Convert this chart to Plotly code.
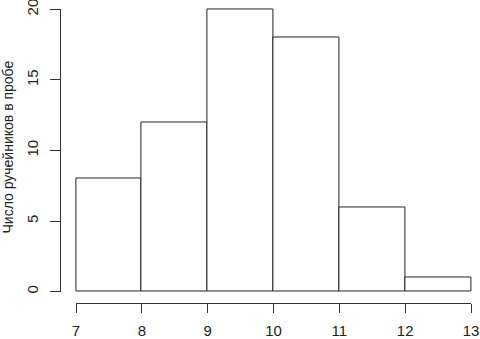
import plotly.graph_objects as go

bin_left = [7, 8, 9, 10, 11, 12]
counts = [8, 12, 20, 18, 6, 1]
x_ticks = [7, 8, 9, 10, 11, 12, 13]
y_ticks = [0, 5, 10, 15, 20]
y_label = "Число ручейников в пробе"

W, H = 480, 339
centers = [b + 0.5 for b in bin_left]

def px(x):
    return x / W

def py(y):
    return (H - y) / H

font = dict(family="Liberation Sans, Arial, sans-serif", size=15, color="#222")

# data extents in target pixels
X7, X13 = 76.0, 471.0
Y0, Y20 = 291.7, 9.3
padx = 0.1
pad_bot, pad_top = 0.5, 0.2
ux = (X13 - X7) / 6.0
uy = (Y0 - Y20) / 20.0

fig = go.Figure()
fig.add_trace(go.Bar(
    x=centers, y=counts, width=[1] * len(counts),
    marker=dict(color="white", line=dict(color="#222", width=1)),
    hoverinfo="skip", showlegend=False,
))

fig.update_layout(
    width=W, height=H,
    margin=dict(l=0, r=0, t=0, b=0),
    paper_bgcolor="white", plot_bgcolor="rgba(0,0,0,0)",
    font=font,
    bargap=0,
    xaxis=dict(
        domain=[px(X7 - padx * ux), min(1, px(X13 + padx * ux))], range=[7 - padx, 13 + padx],
        anchor="y", visible=False,
    ),
    yaxis=dict(
        domain=[py(Y0 + pad_bot * uy), min(1, py(Y20 - pad_top * uy))], range=[0 - pad_bot, 20 + pad_top],
        anchor="x", visible=False,
    ),
    xaxis2=dict(
        domain=[px(X7), px(X13)], range=[7, 13],
        anchor="free", position=py(302.7),
        showgrid=False, zeroline=False, showline=True, linecolor="#333", linewidth=1,
        ticks="outside", ticklen=9, tickcolor="#333", tickwidth=1,
        tickvals=x_ticks, ticktext=[str(v) for v in x_ticks],
        ticklabelstandoff=5, ticklabeloverflow="allow", automargin=False,
    ),
    yaxis2=dict(
        domain=[py(Y0), py(Y20)], range=[0, 20],
        anchor="free", position=px(60),
        showgrid=False, zeroline=False, showline=True, linecolor="#333", linewidth=1,
        ticks="outside", ticklen=10, tickcolor="#333", tickwidth=1,
        tickvals=y_ticks, ticktext=[str(v) for v in y_ticks],
        tickangle=-90, ticklabelstandoff=6, ticklabeloverflow="allow", automargin=False,
    ),
    annotations=[dict(
        text=y_label, textangle=-90, xref="paper", yref="paper",
        x=px(7.5), y=py(147), xanchor="center", yanchor="middle", showarrow=False,
        font=dict(family="Liberation Sans, Arial, sans-serif", size=14, color="#222"),
    )],
)
# invisible trace to activate the display axes
fig.add_trace(go.Scatter(x=[7], y=[0], xaxis="x2", yaxis="y2", mode="markers",
                         marker=dict(opacity=0), hoverinfo="skip", showlegend=False))

fig.write_html("out.html", config={"displayModeBar": False},
               post_script="document.body.style.margin='0';document.body.style.overflow='hidden';")
